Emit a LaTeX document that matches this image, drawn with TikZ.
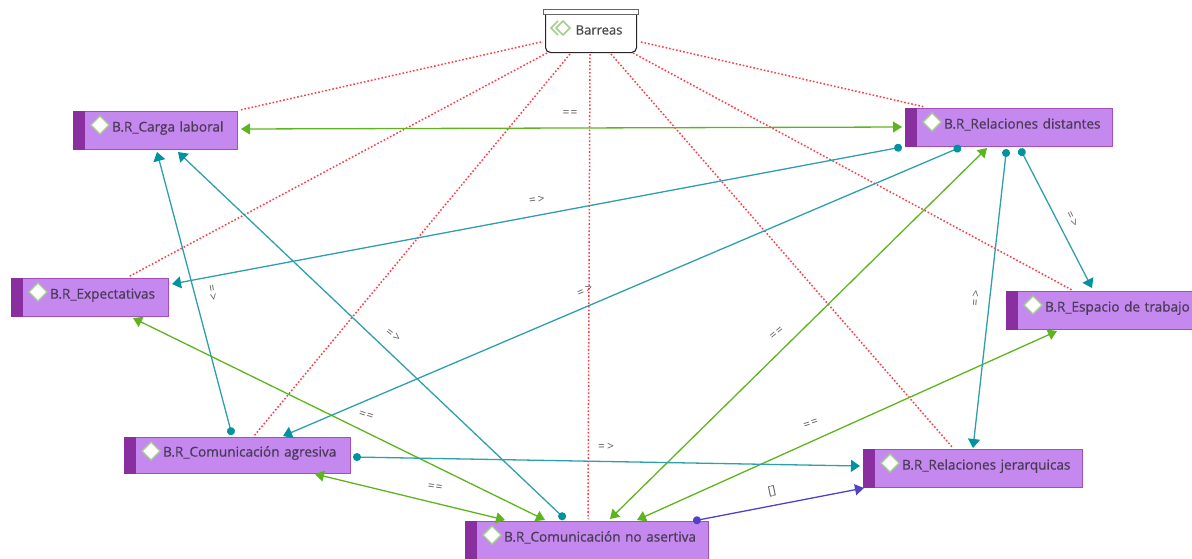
\documentclass[tikz,border=0pt]{standalone}
\usepackage{fontspec}
\setmainfont{Open Sans}
\newfontfamily\boxfont{Open Sans}[FakeBold=0.6]
\usetikzlibrary{positioning,calc,arrows,arrows.meta,shapes.geometric}
\definecolor{boxfill}{HTML}{C488EE}
\definecolor{boxline}{HTML}{A24FB8}
\definecolor{boxstripe}{HTML}{8A2FA0}
\definecolor{boxtext}{HTML}{4A3A58}
\definecolor{iconline}{HTML}{A3D08C}
\definecolor{tealline}{HTML}{2E9FAB}
\definecolor{tealtip}{HTML}{00929E}
\definecolor{greenline}{HTML}{5DB51E}
\definecolor{redline}{HTML}{FF3C46}
\definecolor{blueline}{HTML}{4F42C8}
\tikzset{
	code/.style={draw=boxline, line width=1.2pt, fill=boxfill, anchor=north west, inner xsep=0pt, inner ysep=0pt,
		text=boxtext, font=\boxfont\fontsize{13.6}{15}\selectfont, align=left, text height=20pt, text depth=18pt,
		execute at begin node=\hspace*{38.5pt}},
	reddot/.style={redline, line width=1.5pt, dash pattern=on 1.6pt off 2pt},
	tealarrow/.style={tealline, line width=1.3pt, {Circle[length=8pt,color=tealtip]}-{Triangle[length=9pt,width=12pt,color=tealtip]}},
	greenarrow/.style={greenline, line width=1.3pt, {Triangle[length=9pt,width=11pt]}-{Triangle[length=9pt,width=11pt]}},
	bluearrow/.style={blueline, line width=1.3pt, {Circle[length=8pt]}-{Triangle[length=9pt,width=11pt]}},
	rel/.style={text=black!65, font=\fontsize{12}{14}\selectfont, inner sep=0pt}
}

\begin{document}
\begin{tikzpicture}[x=1pt, y=-1pt]
	\useasboundingbox (0,0) rectangle (1192,558);

	\begin{scope}
		\node[code, text width=164pt] (carga) at (73,111) {B.R\_Carga laboral};
		\node[code, text width=207pt] (rd) at (905,108) {B.R\_Relaciones distantes};
		\node[code, text width=157pt] (exp) at (11,278) {B.R\_Expectativas};
		\node[code, text width=187pt] (esp) at (1006,291) {B.R\_Espacio de trabajo};
		\node[code, text width=226pt, text height=19pt, text depth=17pt] (ca) at (124,437) {B.R\_Comunicación agresiva};
		\node[code, text width=219pt] (rj) at (863,449) {B.R\_Relaciones jerarquicas};
		\node[code, text width=243pt] (cna) at (465,521) {B.R\_Comunicación no asertiva};
		\foreach \n in {carga,rd,exp,esp,ca,rj,cna} {
			\fill[boxstripe] (\n.north west) rectangle ($(\n.south west)+(12,0)$);
			\begin{scope}[shift={(\n.north west)}]
				\filldraw[draw=iconline, fill=white, line width=1.4pt] (27,5) -- (36,14) -- (27,23) -- (18,14) -- cycle;
			\end{scope}
		}

		\node[draw=black!85, line width=1.1pt, fill=white, rounded corners=5pt, anchor=north west, minimum width=91pt, inner sep=0pt, text height=25pt, text depth=18pt, text=black!70, font=\boxfont\fontsize{13}{15}\selectfont] (barreas) at (545,9) {\hspace*{16pt}Barreas};
		\node[draw=black!60, line width=1pt, fill=white, anchor=north west, minimum width=95pt, minimum height=5pt, inner sep=0pt] (cap) at (543,9) {};
		\draw[iconline, line width=1.6pt] (558,21) -- (551,28) -- (558,35);
		\draw[iconline, line width=1.6pt] (563,21) -- (570,28) -- (563,35) -- (556,28) -- cycle;
	\end{scope}

	% relaciones con barreas
	\draw[reddot] ($(barreas.north west)+(-4,33)$) -- ($(carga.north west)+(167,-1)$);
	\draw[reddot] ($(barreas.north west)+(2,44)$) -- ($(exp.north west)+(117,-1)$);
	\draw[reddot] ($(barreas.north west)+(25,45)$) -- ($(ca.north west)+(130,-1)$);
	\draw[reddot] ($(barreas.north west)+(45,45)$) -- ($(cna.north west)+(123,-2)$);
	\draw[reddot] ($(barreas.north west)+(66,45)$) -- ($(rj.north west)+(90,-1)$);
	\draw[reddot] ($(barreas.north west)+(88,44)$) -- ($(esp.north west)+(66,-1)$);
	\draw[reddot] ($(barreas.north west)+(96,33)$) -- ($(rd.north west)+(20,-1)$);

	\draw[greenarrow] ($(carga.north west)+(168,18)$) -- ($(rd.north west)+(-3,19)$);
	\draw[greenarrow] ($(exp.north west)+(122,40)$) -- ($(cna.north west)+(80,-1)$);
	\draw[greenarrow] ($(ca.north west)+(191,37)$) -- ($(cna.north west)+(40,-1)$);
	\draw[greenarrow] ($(rd.north west)+(82,40)$) -- ($(cna.north west)+(145,-2)$);
	\draw[greenarrow] ($(esp.north west)+(51,40)$) -- ($(cna.north west)+(172,-1)$);

	\draw[tealarrow] ($(rd.north west)+(-3,39)$) -- ($(exp.north west)+(161,6)$);
	\draw[tealarrow] ($(rd.north west)+(56,39)$) -- ($(ca.north west)+(159,-1)$);
	\draw[tealarrow] ($(rd.north west)+(101.5,41)$) -- ($(rj.north west)+(110,-1)$);
	\draw[tealarrow] ($(rd.north west)+(115,40.5)$) -- ($(esp.north west)+(86,-3)$);
	\draw[tealarrow] ($(ca.north west)+(108,-2)$) -- ($(carga.north west)+(84,41)$);
	\draw[tealarrow] ($(cna.north west)+(100,-2)$) -- ($(carga.north west)+(105,41)$);
	\draw[tealarrow] ($(ca.north west)+(229,20)$) -- ($(rj.north west)+(-3,17)$);
	\draw[bluearrow] ($(cna.north west)+(228,0)$) -- ($(rj.north west)+(1,39)$);

	% etiquetas
	\node[rel] (l1) at (570,114) {=\kern1pt=};
	\node[rel, rotate=8] (l2) at (537,200) {=\kern2pt>};
	\node[rel, rotate=23] (l3) at (585,291) {=\kern2pt>};
	\node[rel, rotate=85] (l4) at (976,298) {=\kern2pt>};
	\node[rel, rotate=-65] (l5) at (1072,219) {=\kern2pt>};
	\node[rel, rotate=-80] (l6) at (212,293) {=\kern2pt>};
	\node[rel, rotate=-38] (l7) at (393,335) {=\kern2pt>};
	\node[rel] (l8) at (606,447) {=\kern2pt>};
	\node[rel, rotate=-18] (l9) at (366,416) {=\kern1pt=};
	\node[rel, rotate=-8] (l10) at (435,488) {=\kern1pt=};
	\node[rel, rotate=40] (l11) at (777,334) {=\kern1pt=};
	\node[rel, rotate=18] (l12) at (811,424) {=\kern1pt=};
	\node[rel, rotate=12] (l13) at (772,491) {[]};
\end{tikzpicture}
\end{document}
